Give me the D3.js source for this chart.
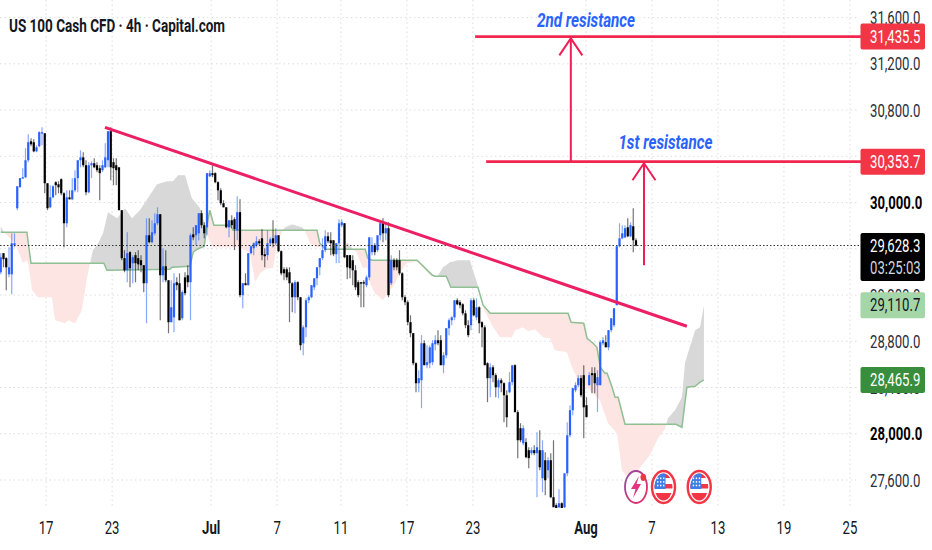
<!DOCTYPE html>
<html><head><meta charset="utf-8">
<script src="https://cdn.jsdelivr.net/npm/d3@7"></script>
<style>html,body{margin:0;padding:0;background:#fff}svg{display:block}text{font-family:Roboto,sans-serif}</style>
</head><body><div id="c"></div>
<script>
const opens=[29397,29562,29519,29379,29379,29631,29951,30132,30211,30219,30366,30530,30522,30443,30487,30600,30600,30167,29959,30045,30176,30158,30202,30080,29821,30045,30028,30106,30211,30366,30391,30323,30089,30323,30340,30323,30297,30280,30305,30366,30617,30349,30323,30305,29934,29519,29414,29571,29475,29545,29519,29501,29458,29302,29717,29657,29734,29821,29899,29371,29449,29328,28965,29007,29311,29302,28999,29353,29371,29311,29725,29717,29734,29908,29804,29786,30228,30254,30254,30176,30106,29994,29959,29786,29847,29856,29760,29917,29199,29302,29285,29562,29605,29631,29665,29691,29553,29545,29648,29691,29648,29717,29579,29423,29423,29397,29302,29181,29311,29181,28783,28921,29155,29181,29267,29345,29440,29519,29588,29708,29674,29674,29553,29648,29804,29821,29545,29545,29501,29414,29311,29311,29311,29285,29353,29571,29631,29588,29717,29821,29734,29778,29302,29501,29501,29501,29388,29181,29138,28965,28870,28610,28437,28463,28783,28593,28610,28619,28774,28809,28809,28593,28679,28913,28982,29007,29155,29138,29120,29042,28939,28939,29155,29007,29094,28965,28921,28610,28481,28575,28507,28402,28463,28437,28333,28359,28446,28593,28187,28048,27918,27927,27858,27832,27858,27832,27858,27615,27771,27684,27771,27451,27382,27364,27399,27364,27658,27987,28204,28376,28420,28481,28507,28247,28420,28524,28524,28420,28420,28783,28792,28748,28896,28939,29112,29622,29691,29699,29786,29708,29795,29674];
const highs=[29562,29562,29527,29613,29734,29734,30141,30211,30297,30470,30591,30557,30548,30496,30617,30652,30600,30167,30150,30150,30184,30184,30211,30089,30106,30106,30211,30280,30366,30452,30435,30366,30349,30357,30383,30349,30323,30366,30513,30617,30652,30383,30383,30305,29934,29588,29743,29579,29545,29571,29588,29545,29458,29864,29864,29847,29908,29959,29899,29605,29588,29328,29328,29388,29353,29388,29242,29397,29458,29734,29786,29804,29908,29934,29830,30254,30280,30323,30263,30184,30124,30020,29959,29847,29891,29873,30054,30028,29302,29388,29562,29631,29657,29708,29682,29769,29605,29760,29699,29847,29778,29717,29588,29440,29440,29440,29311,29328,29320,29181,28939,29172,29199,29285,29345,29440,29519,29691,29760,29743,29743,29674,29648,29856,29856,29821,29545,29545,29545,29458,29328,29311,29328,29371,29699,29699,29648,29717,29830,29864,29830,29830,29545,29519,29519,29588,29397,29199,29155,29025,28870,28619,28550,28853,28809,28766,28766,28809,28853,28896,28853,28705,28913,28999,29016,29155,29172,29155,29129,29068,28982,29172,29172,29172,29103,28974,28939,28619,28610,28593,28524,28481,28481,28446,28376,28533,28567,28601,28204,28091,28074,27961,27883,27883,27901,28013,28030,27944,27840,27797,27832,27944,27399,27520,27408,27658,28100,28247,28394,28446,28507,28507,28593,28316,28533,28575,28575,28550,28809,28835,28853,28896,28999,29086,29622,29821,29804,29804,29864,29830,29951,29691];
const lows=[29379,29440,29242,29353,29207,29613,29934,30132,30211,30211,30349,30487,30435,30435,30478,30496,30080,29934,29951,30037,30063,30080,30063,29613,29786,30028,30020,30089,30089,30305,30305,30063,30080,30211,30297,30263,30020,30263,30297,30305,30193,30150,30150,29934,29501,29397,29311,29267,29302,29311,29414,29397,29225,28956,29648,29648,29717,29804,28982,29311,29311,28870,28965,28879,29242,28982,28982,29199,29267,28982,29674,29631,29674,29778,29691,29717,30219,30219,30167,30020,29977,29959,29778,29699,29778,29588,29674,29181,29086,29285,29285,29553,29545,29613,29631,29501,29440,29501,29631,29613,29631,29571,29371,29328,29328,28965,29051,29042,29155,28722,28679,28835,29129,29172,29242,29285,29371,29501,29571,29648,29545,29536,29475,29475,29786,29519,29336,29345,29285,29242,29181,29094,29094,29267,29328,29545,29545,29571,29674,29657,29674,29181,29285,29414,29414,29371,29155,29112,28939,28835,28593,28359,28359,28221,28593,28567,28567,28593,28722,28766,28593,28524,28653,28853,28939,28982,29112,29086,29025,28913,28835,28896,29016,28982,28870,28748,28593,28273,28316,28446,28316,28307,28359,28100,28057,28350,28420,28187,27788,27927,27901,27788,27701,27814,27814,27451,27684,27494,27468,27615,27443,27373,27321,27338,27321,27338,27632,27970,28160,28359,28402,28316,27961,28143,28420,28350,28350,28187,28420,28766,28748,28722,28879,28921,29112,29613,29682,29691,29699,29699,29571,29622];
const closes=[29527,29510,29440,29440,29648,29648,30141,30211,30219,30366,30522,30504,30443,30478,30609,30609,30167,29951,30045,30141,30150,30132,30080,29821,30045,30028,30106,30211,30366,30391,30323,30089,30323,30340,30305,30280,30254,30323,30391,30617,30305,30297,30280,29934,29519,29414,29562,29432,29527,29475,29466,29458,29302,29717,29657,29743,29821,29899,29371,29449,29328,28965,29094,29302,29285,28982,29225,29216,29311,29717,29699,29804,29908,29804,29734,30254,30254,30237,30176,30106,29994,29959,29786,29847,29804,29769,29917,29199,29302,29285,29562,29622,29648,29665,29648,29545,29536,29648,29682,29648,29717,29579,29388,29388,29353,29302,29181,29311,29181,28766,28921,29155,29181,29285,29345,29440,29519,29588,29708,29665,29648,29553,29648,29821,29830,29527,29440,29432,29414,29267,29199,29302,29302,29353,29699,29631,29571,29717,29821,29734,29778,29199,29501,29440,29440,29388,29181,29138,28965,28870,28610,28437,28481,28783,28593,28619,28748,28783,28809,28783,28593,28679,28913,28982,29007,29155,29120,29112,29042,28939,28853,29155,29025,29094,28956,28921,28593,28481,28575,28507,28402,28463,28437,28333,28143,28446,28593,28187,27944,27944,28048,27797,27789,27858,27832,27883,27710,27858,27598,27771,27451,27364,27338,27399,27338,27658,27987,28204,28394,28420,28481,28333,28229,28143,28507,28507,28437,28489,28792,28809,28748,28896,28999,29086,29622,29691,29734,29778,29708,29804,29674,29628.3];

const spanABars=[0,9.5,11,37.5,38.6,61.5,62.3,68.8,70,71.4,74,75,76,77.5,83.4,84.5,115,116,118,132.5,133.5,135,151.4,157,158,162,163.7,173.5,175.4,178,206.3,207.4,212,213.2,215.4,216.8,218,219.7,220.5,222.3,223.4,224.5,227,245.5,247.7,249.5,252.5,254.3,255.7];
const spanA=[29743,29743,29475,29475,29414,29423,29440,29449,29571,29596,29622,29804,29934,29804,29804,29760,29760,29648,29596,29596,29519,29501,29501,29371,29362,29362,29267,29267,29112,29042,29042,28965,28956,28826,28783,28748,28575,28523,28523,28402,28316,28316,28082,28082,28056,28402,28411,28446,28465.9];
const spanBBars=[0,1.2,5.2,8.1,9.5,9.9,11.4,13.5,18.6,19.7,23.4,24.5,27,29.5,31.4,32.5,33.5,35.4,37.2,39,42.3,45.2,47.7,50.6,53.5,56.8,60.5,62.6,64.5,67,69.5,72.5,74.3,75.7,77.2,87,90.6,92.5,94.3,96.8,99,100.5,102.6,103.4,105.9,109.5,110.6,112.5,115,116.8,118,125.2,125.9,128.1,129.5,131.7,133.2,134.3,136.1,139,140.8,143.4,145.2,147.7,151.4,156.1,158.6,160.8,163.4,166.3,170.6,171.7,173.5,175.4,178.6,181.5,185.9,187,189.9,191.7,194.3,197.2,199.7,201.5,205.9,207.7,209.5,214.3,217.9,220.8,224.1,225.9,228.1,231.7,236,239,241.5,242.6,245.2,247.7,248.8,249.9,252.5,254.3,255.7];
const spanB=[29795,29743,29648,29475,29501,29484,29242,29181,29181,28982,28956,28982,28956,29068,29354,29475,29588,29648,29734,29917,29864,29951,29864,29934,30037,30158,30184,30184,30236,30236,30037,29951,29804,29674,29613,29613,29562,29311,29388,29432,29432,29648,29760,29786,29812,29786,29760,29648,29613,29613,29596,29596,29657,29596,29562,29432,29440,29302,29216,29155,29216,29302,29397,29475,29492,29371,29354,29440,29484,29501,29501,29414,29285,29094,28939,28835,28835,28896,28921,28887,28904,28835,28826,28722,28705,28575,28489,28376,28290,28091,28005,27684,27615,27684,27814,27961,28039,28134,28204,28316,28610,28697,28896,28921,29110.7];

const gridPrices=[31600,31200,30800,30400,30000,29600,29200,28800,28400,28000,27600];
const priceTicks=[31600,31200,30800,30000,29200,28800,28400,28000,27600];
const boldTicks=[30000,28000];
const timeBars=[16.5,40.5,76.5,100.5,123.7,147.7,171.7,212.8,236.8,260.8,284.8,308.8];
const timeLabels=["17","23","Jul","7","11","17","23","Aug","7","13","19","25"];
const boldTimes=["Jul","Aug"];
const title="US 100 Cash CFD · 4h · Capital.com";
const resistanceLevels=[31435.5,30353.7];
const resistanceBars=[172.5,176.5];
const resistanceNames=["2nd resistance","1st resistance"];
const resistanceNameBars=[195,224.6];
const resistanceNamePrices=[31519,30461];
const trendBars=[37.9,249.5];
const trendPrices=[30651,28930];
const arrowBars=[207.3,233.9];
const arrowTails=[30353.7,29458];
const arrowTips=[31420,30340];
const lastPrice=29628.3;
const countdown="03:25:03";
const spanBLast=29110.7, spanALast=28465.9;
const eventBars=[231,241,254];

const W=932,H=550,paneR=859,paneB=508;
const x=d3.scaleLinear().domain([0,1]).range([0.75,3.5]);
const y=d3.scaleLinear().domain([27600,31600]).range([480,17.6]);
const fmt=d3.format(",.1f");
const svg=d3.select("#c").append("svg").attr("width",W).attr("height",H);
const defs=svg.append("defs");
defs.append("clipPath").attr("id","pane").append("rect").attr("width",paneR).attr("height",paneB);

// grid
const grid=svg.append("g").attr("stroke","#dcdde0").attr("stroke-dasharray","1.5,3").attr("stroke-width",1);
timeBars.forEach(b=>grid.append("line").attr("x1",x(b)).attr("x2",x(b)).attr("y1",0).attr("y2",paneB));
gridPrices.forEach(p=>grid.append("line").attr("x1",0).attr("x2",paneR).attr("y1",y(p)).attr("y2",y(p)));

const pane=svg.append("g").attr("clip-path","url(#pane)");
// cloud
const aAt=d3.scaleLinear().domain(spanABars).range(spanA);
const bAt=d3.scaleLinear().domain(spanBBars).range(spanB);
const gridBars=d3.range(0,255.7,0.2).concat([255.7]);
pane.append("path").attr("fill","#fce5e3").attr("d",d3.area().x(d=>x(d)).y0(d=>y(aAt(d))).y1(d=>y(Math.min(aAt(d),bAt(d))))(gridBars));
pane.append("path").attr("fill","#d8d8d9").attr("d",d3.area().x(d=>x(d)).y0(d=>y(aAt(d))).y1(d=>y(Math.max(aAt(d),bAt(d))))(gridBars));
pane.append("path").attr("fill","none").attr("stroke","#8fbf92").attr("stroke-width",1.5).attr("d",d3.line().x((d,i)=>x(spanABars[i])).y(d=>y(d))(spanA));

// candles
const UP="#2962ff",DOWN="#000";
const bars=closes.map((c,i)=>({i,o:opens[i],h:highs[i],l:lows[i],c}));
pane.append("g").selectAll("line").data(bars).join("line")
 .attr("x1",d=>x(d.i)).attr("x2",d=>x(d.i)).attr("y1",d=>y(d.h)).attr("y2",d=>y(d.l))
 .attr("stroke",d=>d.c>=d.o?UP:DOWN).attr("stroke-opacity",.55).attr("stroke-width",1.2);
pane.append("g").selectAll("rect").data(bars).join("rect")
 .attr("x",d=>x(d.i)-1.1).attr("width",2.2)
 .attr("y",d=>y(Math.max(d.o,d.c))).attr("height",d=>Math.max(1.4,Math.abs(y(d.o)-y(d.c))))
 .attr("fill",d=>d.c>=d.o?UP:DOWN);

// last price dotted line
svg.append("line").attr("x1",0).attr("x2",paneR).attr("y1",y(lastPrice)).attr("y2",y(lastPrice))
 .attr("stroke","#333").attr("stroke-dasharray","1.5,2").attr("stroke-width",1);

// annotations
const RED="#f0264f";
resistanceLevels.forEach((p,i)=>{
  svg.append("line").attr("x1",x(resistanceBars[i])).attr("x2",paneR+2).attr("y1",y(p)).attr("y2",y(p)).attr("stroke",RED).attr("stroke-width",2.6);
  svg.append("text").text(resistanceNames[i]).attr("x",x(resistanceNameBars[i])).attr("y",y(resistanceNamePrices[i]))
   .attr("font-size",20.5).attr("font-weight",700).attr("font-style","italic").attr("fill","#2962ff")
   .attr("text-anchor","start").attr("textLength",i?94:98).attr("lengthAdjust","spacingAndGlyphs");
});
svg.append("line").attr("x1",x(trendBars[0])).attr("x2",x(trendBars[1])).attr("y1",y(trendPrices[0])).attr("y2",y(trendPrices[1])).attr("stroke","#ec1f63").attr("stroke-width",3);
arrowBars.forEach((b,i)=>{
  const ax=x(b),t=y(arrowTips[i]),g=svg.append("g").attr("fill","none").attr("stroke","#ef1f55").attr("stroke-width",2);
  g.append("line").attr("x1",ax).attr("x2",ax).attr("y1",y(arrowTails[i])).attr("y2",t);
  g.append("path").attr("d",`M${ax-11.5},${t+17}L${ax},${t}L${ax+11.5},${t+17}`);
});

// event icons
const iy=487;
function flag(cx,id){
  const g=svg.append("g").attr("transform",`translate(${cx},${iy})`);
  g.append("ellipse").attr("rx",11.5).attr("ry",16).attr("fill","#fff").attr("stroke","#f23645").attr("stroke-width",2.4);
  defs.append("clipPath").attr("id",id).append("ellipse").attr("rx",9).attr("ry",13.5);
  const f=g.append("g").attr("clip-path",`url(#${id})`);
  f.append("rect").attr("x",-10).attr("y",-14).attr("width",20).attr("height",5).attr("fill","#f23645");
  f.append("rect").attr("x",-10).attr("y",-3).attr("width",20).attr("height",4.5).attr("fill","#f23645");
  f.append("rect").attr("x",-10).attr("y",6).attr("width",20).attr("height",8).attr("fill","#f23645");
  f.append("rect").attr("x",-10).attr("y",-14).attr("width",12).attr("height",16).attr("fill","#3f7de8");
  for(let r=0;r<3;r++)for(let c=0;c<3;c++)f.append("rect").attr("x",-6.5+c*3).attr("y",-9.5+r*3.6).attr("width",1.4).attr("height",1.6).attr("fill","#fff");
}
const grad=defs.append("linearGradient").attr("id","lg").attr("x1",0).attr("y1",0).attr("x2",1).attr("y2",1);
grad.append("stop").attr("offset","0%").attr("stop-color","#8e4aa8");
grad.append("stop").attr("offset","100%").attr("stop-color","#ee2a5e");
const ig=svg.append("g").attr("transform",`translate(${x(eventBars[0])},${iy})`);
ig.append("ellipse").attr("rx",11).attr("ry",16).attr("fill","#fff").attr("stroke","url(#lg)").attr("stroke-width",1.8);
ig.append("path").attr("d","M3,-11L-5,2L-0.5,2L-3,11L5,-3L0.5,-3Z").attr("fill","#e0357f");
ig.append("ellipse").attr("cx",7.3).attr("cy",-9.7).attr("rx",2.8).attr("ry",3.6).attr("fill","#f23645");
flag(x(eventBars[1]),"fa");flag(x(eventBars[2]),"fb");

// title
svg.append("text").text(title).attr("x",9).attr("y",32).attr("font-size",18).attr("font-weight",700).attr("fill","#131722")
 .attr("textLength",216).attr("lengthAdjust","spacingAndGlyphs");

// axis labels (horizontally condensed as in the reference)
function condensed(t,px,py,opt={}){
  return svg.append("text").text(t).attr("transform",`translate(${px},${py}) scale(0.73,1)`)
   .attr("font-size",opt.size||18).attr("font-weight",opt.w||400).attr("fill",opt.fill||"#131722").attr("text-anchor",opt.anchor||"start");
}
timeLabels.forEach((t,i)=>condensed(t,x(timeBars[i]),534,{anchor:"middle",w:boldTimes.includes(t)?700:400}));
priceTicks.forEach(p=>condensed(fmt(p),870,y(p)+6.5,{w:boldTicks.includes(p)?700:400,fill:boldTicks.includes(p)?"#000":"#2a2e39"}));

// price tags
function tag(p,fill,txt,opt={}){
  const cy=y(p),h=opt.h||26,top=opt.top!==undefined?opt.top:cy-h/2;
  svg.append("rect").attr("x",860.5).attr("width",64.5).attr("y",top).attr("height",h).attr("rx",2).attr("fill",fill);
  condensed(fmt(p),870,top+(opt.dy||19),{fill:txt});
}
resistanceLevels.forEach(p=>tag(p,"#f23645","#fff"));
tag(lastPrice,"#000","#fff",{h:48,top:233,dy:19});
condensed(countdown,870,274,{fill:"#d1d4dc"});
tag(spanBLast,"#a5d6a7","#131722");
tag(spanALast,"#388e3c","#fff");
</script></body></html>
